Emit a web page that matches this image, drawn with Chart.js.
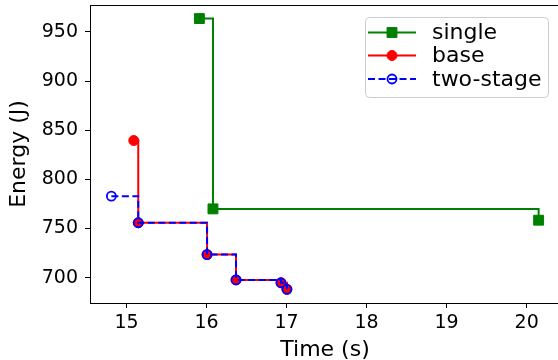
<!DOCTYPE html>
<html><head><meta charset="utf-8">
<script src="https://cdn.jsdelivr.net/npm/chart.js@4"></script>
<style>
html,body{margin:0;padding:0;overflow:hidden;background:#fff;width:558px;height:360px}
#wrap{width:558px;height:360px;overflow:hidden;position:relative}
canvas{display:block}
</style></head>
<body><div id="wrap"><canvas id="c" width="562" height="360"></canvas></div>
<script>
// ---- data ----
const seriesNames = ['single', 'base', 'two-stage'];
const singleTime = [15.91, 16.08, 20.15];
const singleEnergy = [963.5, 770.0, 758.5];
const baseTime = [15.09, 15.146, 16.006, 16.368, 16.93, 17.004];
const baseEnergy = [839.5, 755.9, 723.5, 697.8, 694.9, 688.2];
const twoStageTime = [14.81, 15.146, 16.006, 16.368, 16.93, 17.004];
const twoStageEnergy = [782.9, 755.9, 723.5, 697.8, 694.9, 688.2];
const xTickValues = [15, 16, 17, 18, 19, 20];
const yTickValues = [700, 750, 800, 850, 900, 950];
const xTitle = 'Time (s)';
const yTitle = 'Energy (J)';

const FONT = '"DejaVu Sans", "Liberation Sans", sans-serif';
const toPts = (xs, ys) => xs.map((x, i) => ({x: x, y: ys[i]}));

const datasets = [
  {label: seriesNames[0], data: toPts(singleTime, singleEnergy), order: 3,
   borderColor: '#008000', borderWidth: 2, stepped: 'before', fill: false,
   pointStyle: 'rect', pointRadius: 7, pointBorderWidth: 1,
   pointBackgroundColor: '#008000', pointBorderColor: '#008000'},
  {label: seriesNames[1], data: toPts(baseTime, baseEnergy), order: 2,
   borderColor: '#ff0000', borderWidth: 2, stepped: 'before', fill: false,
   pointStyle: 'circle', pointRadius: 5, pointBorderWidth: 1,
   pointBackgroundColor: '#ff0000', pointBorderColor: '#ff0000'},
  {label: seriesNames[2], data: toPts(twoStageTime, twoStageEnergy), order: 1,
   borderColor: '#0000ff', borderWidth: 2, stepped: 'before', fill: false,
   borderDash: [7, 3.5],
   pointStyle: 'circle', pointRadius: 4.5, pointBorderWidth: 1.8,
   pointBackgroundColor: 'rgba(0,0,0,0)', pointBorderColor: '#0000ff'}
];

const frameAndLegend = {
  id: 'frameAndLegend',
  afterDraw(chart) {
    const ctx = chart.ctx;
    const a = chart.chartArea;
    ctx.save();
    // top spine
    ctx.strokeStyle = '#000';
    ctx.lineWidth = 1;
    ctx.beginPath();
    ctx.moveTo(a.left, Math.round(a.top) + 0.5);
    ctx.lineTo(a.right, Math.round(a.top) + 0.5);
    ctx.stroke();
    // legend box
    const bx = 365.5, by = 17.5, bw = 183, bh = 80;
    ctx.beginPath();
    ctx.roundRect(bx, by, bw, bh, 4);
    ctx.fillStyle = 'rgba(255,255,255,0.8)';
    ctx.fill();
    ctx.strokeStyle = '#cccccc';
    ctx.stroke();
    const rowsY = [32.5, 55.5, 79];
    chart.data.datasets.forEach((ds, i) => {
      const y = rowsY[i];
      ctx.save();
      ctx.strokeStyle = ds.borderColor;
      ctx.lineWidth = ds.borderWidth;
      ctx.setLineDash(ds.borderDash || []);
      ctx.beginPath();
      ctx.moveTo(368, y);
      ctx.lineTo(416, y);
      ctx.stroke();
      ctx.setLineDash([]);
      ctx.fillStyle = ds.pointBackgroundColor;
      ctx.strokeStyle = ds.pointBorderColor;
      ctx.lineWidth = ds.pointBorderWidth;
      Chart.helpers.drawPoint(ctx, {pointStyle: ds.pointStyle, radius: ds.pointRadius,
        rotation: 0, borderWidth: ds.pointBorderWidth}, 392, y);
      ctx.restore();
      ctx.fillStyle = '#000';
      ctx.font = '22px ' + FONT;
      ctx.textBaseline = 'middle';
      ctx.textAlign = 'left';
      ctx.fillText(ds.label, 432, y + 1);
    });
    ctx.restore();
  }
};

const noPad = s => { s.paddingTop = 0; s.paddingBottom = 0; s.paddingLeft = 0; s.paddingRight = 0; };

new Chart(document.getElementById('c'), {
  type: 'line',
  data: {datasets: datasets},
  options: {
    responsive: false,
    animation: false,
    events: [],
    layout: {autoPadding: false, padding: {left: 0, top: 5, right: 2, bottom: 0}},
    plugins: {legend: {display: false}, tooltip: {enabled: false}},
    scales: {
      x: {
        type: 'linear', min: 14.543, max: 20.417,
        afterBuildTicks: s => { s.ticks = xTickValues.map(v => ({value: v})); },
        afterFit: s => { s.height = 57; noPad(s); },
        grid: {display: true, drawOnChartArea: false, drawTicks: true, tickLength: 5,
               tickColor: '#000', tickWidth: 1},
        border: {display: true, color: '#000', width: 1},
        ticks: {color: '#000', font: {family: FONT, size: 19}, padding: 4, maxRotation: 0,
                callback: v => String(v)},
        title: {display: true, text: xTitle, color: '#000', font: {family: FONT, size: 22},
                padding: {top: 0, bottom: -3}}
      },
      y: {
        type: 'linear', min: 674.3, max: 977.3,
        afterBuildTicks: s => { s.ticks = yTickValues.map(v => ({value: v})); },
        afterFit: s => { s.width = 90; noPad(s); },
        grid: {display: true, drawOnChartArea: false, drawTicks: true, tickLength: 5,
               tickColor: '#000', tickWidth: 1},
        border: {display: true, color: '#000', width: 1},
        ticks: {color: '#000', font: {family: FONT, size: 19}, padding: 7,
                callback: v => String(v)},
        title: {display: true, text: yTitle, color: '#000', font: {family: FONT, size: 22},
                padding: {top: 6, bottom: 0}}
      }
    }
  },
  plugins: [frameAndLegend]
});
</script>
</body></html>
